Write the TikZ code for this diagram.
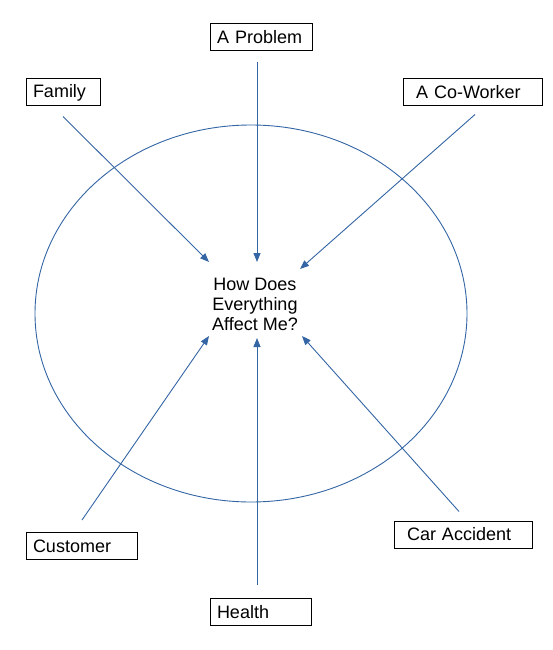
\documentclass[tikz,border=0pt]{standalone}
\usepackage{fontspec}
\setmainfont{Liberation Sans}
\usetikzlibrary{arrows.meta}

\definecolor{lineblue}{RGB}{52,101,164}

\begin{document}
\begin{tikzpicture}[x=1pt, y=-1pt,
    font=\fontsize{18}{20}\selectfont,
    item/.style={draw, line width=1pt, align=left, inner ysep=0pt,
      minimum height=27pt},
    arrow/.style={draw=lineblue, line width=0.9pt,
      -{Triangle[length=9pt, width=7pt]}}]
  \useasboundingbox (0, 0) rectangle (553, 650);

  \draw[lineblue, line width=0.9pt] (251, 313.5) ellipse[x radius=216, y radius=188.5];
  \node[align=center] (me) at (255, 304) {How Does\\Everything\\Affect Me?};

  \node[item, text width=88pt, inner xsep=7pt] (problem) at (261, 37.5) {A Problem};
  \node[item, text width=60pt, inner xsep=7pt] (family) at (63, 92.5) {Family};
  \node[item, text width=113pt, inner xsep=13pt] (coworker) at (472.5, 92.5) {A Co-Worker};
  \node[item, text width=97pt, inner xsep=7pt] (customer) at (81.5, 546) {Customer};
  \node[item, text width=112pt, inner xsep=13pt] (accident) at (463, 534.5) {Car Accident};
  \node[item, text width=87pt, inner xsep=7pt] (health) at (260.5, 612) {Health};

  \coordinate (to family) at (209, 262);
  \coordinate (to problem) at (257, 262);
  \coordinate (to coworker) at (300, 269);
  \coordinate (to customer) at (209, 336);
  \coordinate (to health) at (257, 338);
  \coordinate (to accident) at (302, 336);

  \draw[arrow] (problem.south) ++(-4, 11) -- (to problem);
  \draw[arrow] (family.south) ++(0, 10) -- (to family);
  \draw[arrow] (coworker.south) ++(2.5, 8) -- (to coworker);
  \draw[arrow] (customer.north) ++(0.5, -12) -- (to customer);
  \draw[arrow] (health.north) ++(-3.5, -13) -- (to health);
  \draw[arrow] (accident.north) ++(-4, -9) -- (to accident);
\end{tikzpicture}
\end{document}
